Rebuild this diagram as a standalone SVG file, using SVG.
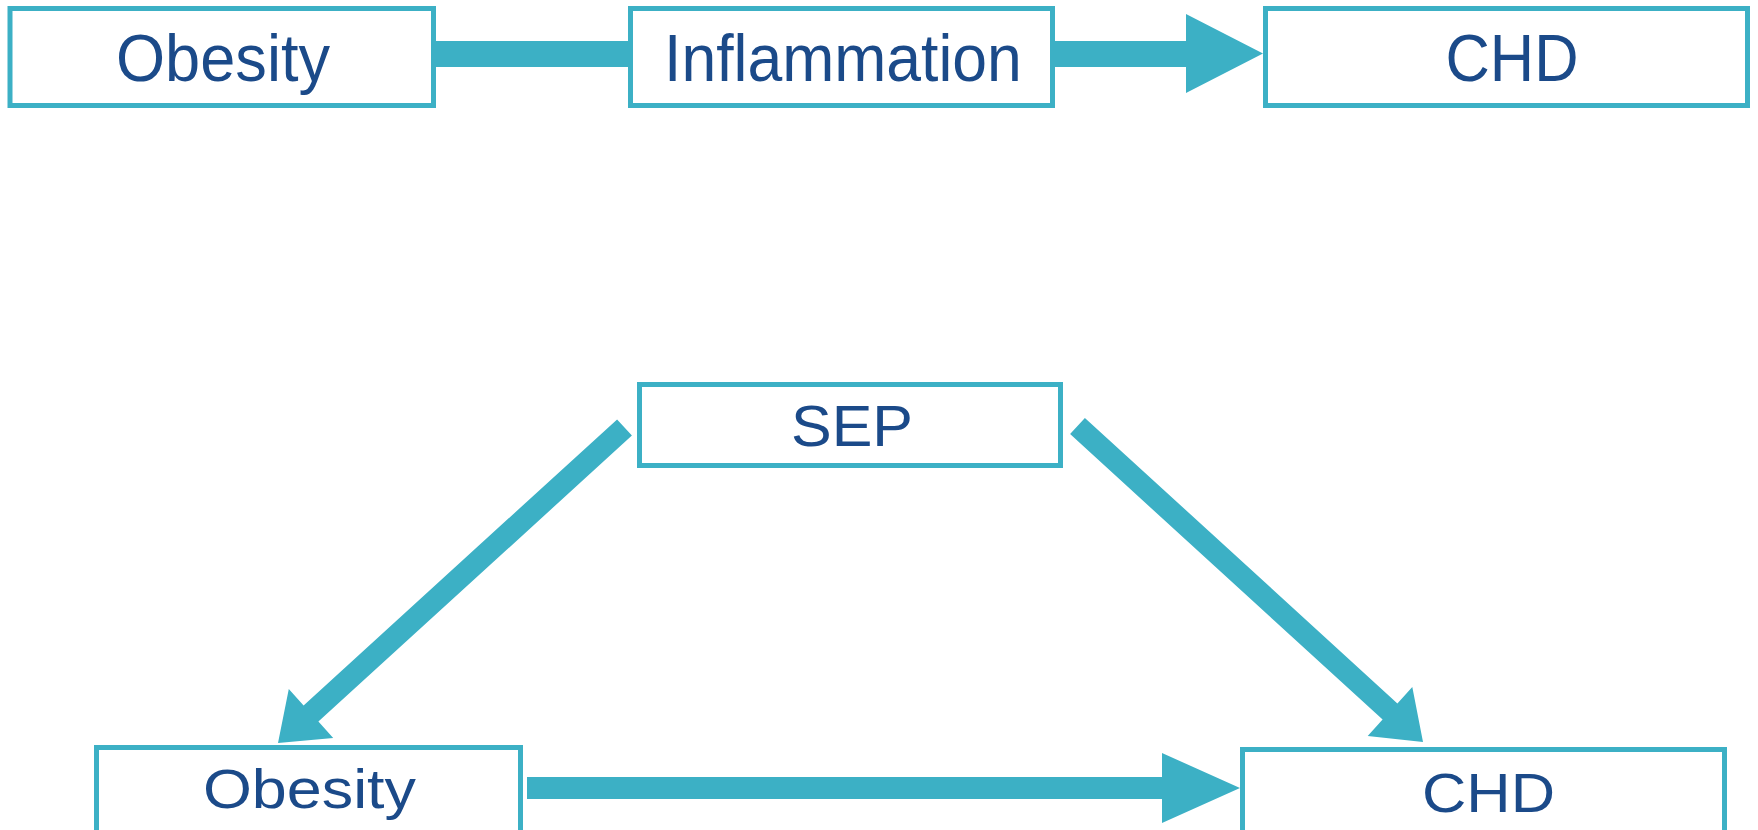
<svg xmlns="http://www.w3.org/2000/svg" width="1758" height="830" viewBox="0 0 1758 830">
<style>
.box{fill:#fff;stroke:#3CB0C5;stroke-width:5}
.lbl{font-family:"Liberation Sans",Arial,sans-serif;fill:#1B4A89;text-anchor:middle}
.arr{fill:#3CB0C5;stroke:none}
</style>
<rect width="1758" height="830" fill="#fff"/>
<g id="connectors">
<rect class="arr" x="433" y="41" width="198" height="26"/>
<polygon class="arr" points="1053,41 1186,41 1186,14 1263,53.5 1186,93 1186,67 1053,67"/>
<polygon class="arr" points="617.1,419.4 631.9,435.6 318.4,721.6 333.2,737.9 278,743 288.8,689.1 303.6,705.4"/>
<polygon class="arr" points="1070.1,434.1 1084.9,417.9 1397.4,703.4 1412.3,687.1 1423,742 1367.7,735.9 1382.6,719.6"/>
<polygon class="arr" points="527,777 1162,777 1162,753 1240,788 1162,823 1162,799 527,799"/>
</g>
<g id="node-obesity-top">
<rect class="box" x="10" y="8.5" width="423.5" height="97"/>
<text class="lbl" transform="translate(223,81) scale(0.957,1)" font-size="66">Obesity</text>
</g>
<g id="node-inflammation">
<rect class="box" x="630.5" y="8.5" width="422" height="97"/>
<text class="lbl" transform="translate(843,81) scale(0.947,1)" font-size="66">Inflammation</text>
</g>
<g id="node-chd-top">
<rect class="box" x="1265.5" y="8.5" width="482" height="97"/>
<text class="lbl" transform="translate(1512,81) scale(0.93,1)" font-size="66">CHD</text>
</g>
<g id="node-sep">
<rect class="box" x="639.5" y="384.5" width="421" height="81"/>
<text class="lbl" x="852" y="446" font-size="57" textLength="122" lengthAdjust="spacingAndGlyphs">SEP</text>
</g>
<g id="node-obesity-bottom">
<rect class="box" x="96.5" y="747.5" width="424" height="100"/>
<text class="lbl" x="309.5" y="808" font-size="55" textLength="213" lengthAdjust="spacingAndGlyphs">Obesity</text>
</g>
<g id="node-chd-bottom">
<rect class="box" x="1242.5" y="749.5" width="482" height="100"/>
<text class="lbl" x="1488.5" y="812" font-size="56" textLength="133" lengthAdjust="spacingAndGlyphs">CHD</text>
</g>
</svg>
